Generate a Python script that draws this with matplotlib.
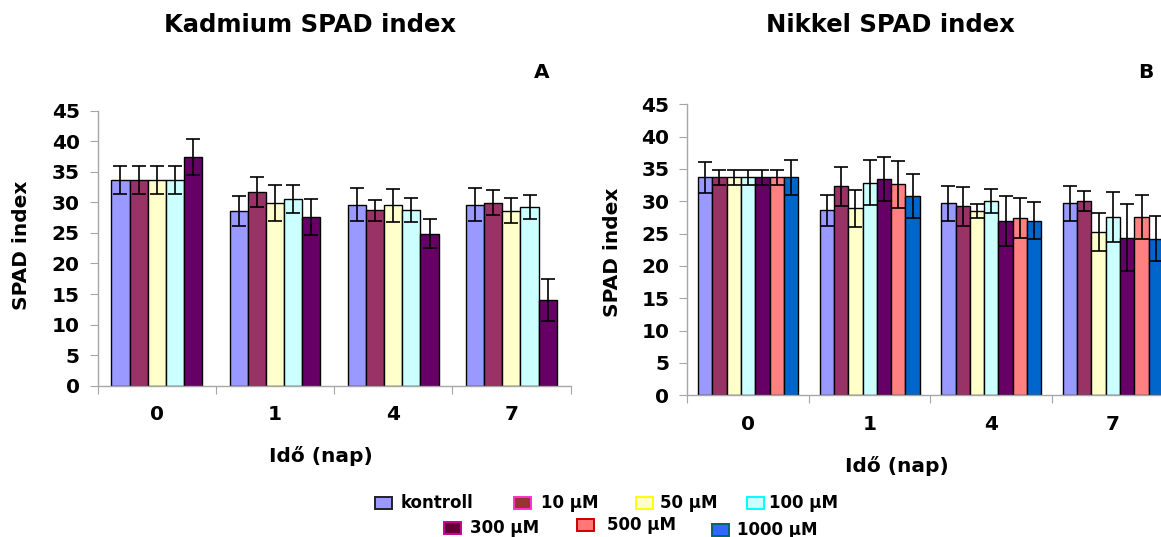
import numpy as np
import matplotlib
matplotlib.use("Agg")
import matplotlib.pyplot as plt
from matplotlib.patches import Rectangle

plt.rcParams['font.family'] = ['DejaVu Sans']
plt.rcParams['font.weight'] = 'bold'

days = ['0', '1', '4', '7']

# Kadmium: kontroll, 10, 50, 100, 300 uM
cd_labels = ['kontroll', '10 µM', '50 µM', '100 µM', '300 µM']
cd_mean = [[33.7, 28.65, 29.6, 29.6],
           [33.7, 31.7, 28.7, 29.95],
           [33.7, 29.95, 29.5, 28.65],
           [33.7, 30.5, 28.75, 29.3],
           [37.35, 27.6, 24.9, 14.0]]
cd_err = [[2.3, 2.45, 2.7, 2.7],
          [2.3, 2.45, 1.75, 2.0],
          [2.3, 2.95, 2.7, 2.05],
          [2.3, 2.3, 1.95, 1.95],
          [2.95, 3.0, 2.35, 3.4]]

# Nikkel: kontroll, 10, 50, 100, 300, 500, 1000 uM
ni_labels = ['kontroll', '10 µM', '50 µM', '100 µM', '300 µM', '500 µM', '1000 µM']
ni_mean = [[33.7, 28.6, 29.7, 29.7],
           [33.7, 32.3, 29.2, 30.05],
           [33.7, 28.9, 28.5, 25.3],
           [33.7, 32.9, 30.1, 27.6],
           [33.7, 33.45, 27.0, 24.4],
           [33.7, 32.6, 27.4, 27.6],
           [33.7, 30.8, 27.0, 24.2]]
ni_err = [[2.4, 2.45, 2.7, 2.7],
          [1.2, 3.0, 3.0, 1.55],
          [1.2, 2.9, 1.15, 2.95],
          [1.2, 3.5, 1.85, 3.85],
          [1.2, 3.45, 3.85, 5.15],
          [1.2, 3.7, 3.05, 3.4],
          [2.75, 3.45, 2.9, 3.5]]

bar_colors = ['#9999FF', '#993366', '#FFFFCC', '#CCFFFF', '#660066', '#FF8080', '#0066CC']

# legend swatches (fill, edge)
leg_fill = ['#9999FF', '#993333', '#FFFFCC', '#CCFFFF', '#660033', '#FF7777', '#3366FF']
leg_edge = ['#222222', '#FF33CC', '#FFFF00', '#00FFFF', '#CC0099', '#CC0000', '#006666']

axis_gray = '#A6A6A6'
W, H = 1161, 537


def draw_panel(ax, mean, err):
    n = len(mean)
    w = 1.0 / (n + 1.5)
    x = np.arange(len(days))
    for i in range(n):
        pos = x - 0.5 + 0.75 * w + (i + 0.5) * w
        ax.bar(pos, mean[i], width=w, color=bar_colors[i], edgecolor='black',
               linewidth=1.0, zorder=2)
        ax.errorbar(pos, mean[i], yerr=err[i], fmt='none', ecolor='black',
                    elinewidth=1.2, capsize=5, capthick=1.2, zorder=3)
    ax.set_xlim(-0.5, len(days) - 0.5)
    ax.set_ylim(0, 45)
    ax.set_yticks(np.arange(0, 46, 5))
    ax.set_xticks(np.arange(len(days) + 1) - 0.5)
    ax.set_xticklabels([])
    ax.set_xticks(x, minor=True)
    ax.set_xticklabels(days, minor=True)
    ax.tick_params(axis='x', which='minor', length=0, pad=14, labelsize=14.5)
    ax.tick_params(axis='x', which='major', length=6, color=axis_gray, direction='out')
    ax.tick_params(axis='y', length=6, color=axis_gray, direction='out',
                   labelsize=14.5, pad=7)
    for lab in ax.get_yticklabels() + ax.get_xticklabels(minor=True):
        lab.set_fontweight('bold')
    for s in ['top', 'right']:
        ax.spines[s].set_visible(False)
    for s in ['left', 'bottom']:
        ax.spines[s].set_color(axis_gray)
        ax.spines[s].set_linewidth(1.0)


fig = plt.figure(figsize=(W / 100, H / 100), dpi=100)

ax1 = fig.add_axes([97.7 / W, 1 - 385.7 / H, 472.8 / W, 275 / H])
draw_panel(ax1, cd_mean, cd_err)

ax2 = fig.add_axes([687.3 / W, 1 - 395.3 / H, 486.4 / W, 291 / H])
draw_panel(ax2, ni_mean, ni_err)

# titles, panel letters and axis labels
fig.text(310 / W, 1 - 25 / H, 'Kadmium SPAD index', ha='center', va='center',
         fontsize=17.5, fontweight='bold')
fig.text(890 / W, 1 - 25 / H, 'Nikkel SPAD index', ha='center', va='center',
         fontsize=17.5, fontweight='bold')
fig.text(542 / W, 1 - 73 / H, 'A', ha='center', va='center', fontsize=14.5, fontweight='bold')
fig.text(1146 / W, 1 - 73 / H, 'B', ha='center', va='center', fontsize=14.5, fontweight='bold')
fig.text(321 / W, 1 - 456 / H, 'Idő (nap)', ha='center', va='center', fontsize=14.5, fontweight='bold')
fig.text(897 / W, 1 - 466 / H, 'Idő (nap)', ha='center', va='center', fontsize=14.5, fontweight='bold')
fig.text(22 / W, 1 - 245 / H, 'SPAD index', ha='center', va='center', rotation=90,
         fontsize=14.5, fontweight='bold')
fig.text(613 / W, 1 - 252 / H, 'SPAD index', ha='center', va='center', rotation=90,
         fontsize=14.5, fontweight='bold')

# legend below both panels
leg_x = [375, 514, 636, 747, 444, 577, 712]
leg_y = [503, 503, 503, 503, 528, 525, 530]
txt_gap = [26, 27, 24, 22, 26, 30, 25]
for i, lab in enumerate(ni_labels):
    px, py = leg_x[i], leg_y[i]
    fig.patches.append(Rectangle((px / W, 1 - (py + 6) / H), 17 / W, 12 / H,
                                 transform=fig.transFigure, facecolor=leg_fill[i],
                                 edgecolor=leg_edge[i], linewidth=1.4))
    fig.text((px + txt_gap[i]) / W, 1 - py / H, lab, ha='left', va='center',
             fontsize=12, fontweight='bold')

fig.savefig('out.png', dpi=100)
